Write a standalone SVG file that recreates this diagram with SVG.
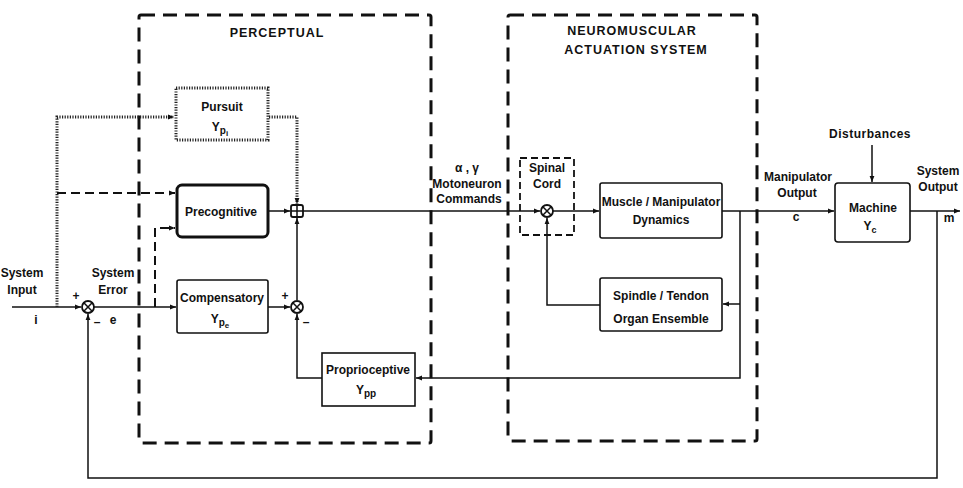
<svg xmlns="http://www.w3.org/2000/svg" width="963" height="488" viewBox="0 0 963 488">
<defs>
<style>
text{font-family:"Liberation Sans",Arial,sans-serif;font-weight:bold;font-size:12px;fill:#111;text-anchor:middle}
.big{font-size:12.5px;letter-spacing:1px}
.box{fill:#fff;stroke:#111;stroke-width:1.6}
.thick{fill:#fff;stroke:#111;stroke-width:3}
.region{fill:none;stroke:#111;stroke-width:3;stroke-dasharray:14,8}
.small{fill:none;stroke:#111;stroke-width:1.8;stroke-dasharray:7,4}
.hatch{fill:none;stroke:#222;stroke-width:3;stroke-dasharray:1.2,1.4}
.line{fill:none;stroke:#111;stroke-width:1.5}
.dash{fill:none;stroke:#111;stroke-width:2;stroke-dasharray:9,5}
.junc{fill:#fff;stroke:#111;stroke-width:1.8}
</style>
<marker id="a" viewBox="0 0 10 10" refX="10" refY="5" markerWidth="7" markerHeight="6" orient="auto" markerUnits="userSpaceOnUse">
<path d="M0,1 L10,5 L0,9 z" fill="#111"/>
</marker>
</defs>
<g id="perceptual-region">
<rect class="region" x="139" y="15" width="292" height="428" rx="2"/>
<text class="big" x="277" y="37">PERCEPTUAL</text>
</g>
<g id="neuromuscular-region">
<rect class="region" x="508" y="15" width="249" height="426" rx="2"/>
<text class="big" x="632" y="35">NEUROMUSCULAR</text>
<text class="big" x="636" y="54">ACTUATION SYSTEM</text>
</g>
<g id="connectors">
<path class="line" d="M12,307 H81" marker-end="url(#a)"/>
<path class="hatch" d="M57,307 V117 H174" marker-end="url(#a)"/>
<path class="dash" d="M57,193 H175" marker-end="url(#a)"/>
<path class="line" d="M94,307 H176" marker-end="url(#a)"/>
<path class="dash" d="M155,307 V228 H175" marker-end="url(#a)"/>
<path class="line" d="M268,307 H290" marker-end="url(#a)"/>
<path class="line" d="M268,211 H290" marker-end="url(#a)"/>
<path class="hatch" d="M269,117 H297 V204" marker-end="url(#a)"/>
<path class="line" d="M297,300 V218" marker-end="url(#a)"/>
<path class="line" d="M303,211 H540" marker-end="url(#a)"/>
<path class="line" d="M553,211 H599" marker-end="url(#a)"/>
<path class="line" d="M722,211 H834" marker-end="url(#a)"/>
<path class="line" d="M910,211 H960" marker-end="url(#a)"/>
<path class="line" d="M740,211 V378 H416" marker-end="url(#a)"/>
<path class="line" d="M740,304 H723" marker-end="url(#a)"/>
<path class="line" d="M600,305 H547 V218" marker-end="url(#a)"/>
<path class="line" d="M322,378 H297 V314" marker-end="url(#a)"/>
<path class="line" d="M937,211 V478 H88 V314" marker-end="url(#a)"/>
<path class="line" d="M872,145 V182" marker-end="url(#a)"/>
</g>
<g id="error-junction">
<circle class="junc" cx="88" cy="307" r="6"/>
<path class="line" d="M83.8,302.8 L92.2,311.2 M92.2,302.8 L83.8,311.2"/>
<text x="76" y="300">+</text>
<text x="97" y="326">–</text>
</g>
<g id="pursuit">
<rect class="hatch" x="176" y="88" width="92" height="52"/>
<text x="222" y="111">Pursuit</text>
<text x="220" y="131">Y<tspan font-size="10" dy="3">p</tspan><tspan font-size="8" dy="2">i</tspan></text>
</g>
<g id="precognitive">
<rect class="thick" x="177" y="185" width="91" height="52" rx="5"/>
<text x="221" y="216">Precognitive</text>
</g>
<g id="compensatory">
<rect class="box" x="177" y="280" width="91" height="53" rx="2"/>
<text x="222" y="302" font-size="11.8">Compensatory</text>
<text x="220" y="323">Y<tspan font-size="10" dy="3">p</tspan><tspan font-size="8" dy="2">e</tspan></text>
</g>
<g id="sum-junction">
<rect class="junc" x="291" y="205" width="12" height="12" rx="2"/>
<path class="line" d="M297,205 V217 M291,211 H303"/>
</g>
<g id="comp-junction">
<circle class="junc" cx="297" cy="307" r="6"/>
<path class="line" d="M292.8,302.8 L301.2,311.2 M301.2,302.8 L292.8,311.2"/>
<text x="285" y="300">+</text>
<text x="306" y="326">–</text>
</g>
<g id="proprioceptive">
<rect class="box" x="322" y="353" width="93" height="53"/>
<text x="368" y="374" font-size="11.5">Proprioceptive</text>
<text x="366" y="394">Y<tspan font-size="10" dy="3">p</tspan><tspan font-size="10">p</tspan></text>
</g>
<g id="spinal-cord">
<rect class="small" x="520" y="158" width="54" height="77"/>
<text x="547" y="172" font-size="12">Spinal</text>
<text x="547" y="188" font-size="12">Cord</text>
<circle class="junc" cx="547" cy="211" r="6"/>
<path class="line" d="M542.8,206.8 L551.2,215.2 M551.2,206.8 L542.8,215.2"/>
</g>
<g id="muscle">
<rect class="box" x="600" y="183" width="122" height="55" rx="2"/>
<text x="661" y="206" font-size="11.8">Muscle / Manipulator</text>
<text x="661" y="224">Dynamics</text>
</g>
<g id="spindle">
<rect class="box" x="600" y="278" width="122" height="53" rx="2"/>
<text x="661" y="300">Spindle / Tendon</text>
<text x="661" y="323">Organ Ensemble</text>
</g>
<g id="machine">
<rect class="box" x="835" y="183" width="75" height="59" rx="3"/>
<text x="873" y="212" font-size="12.5">Machine</text>
<text x="870" y="230">Y<tspan font-size="9" dy="3">c</tspan></text>
</g>
<g id="labels">
<text x="22" y="277">System</text>
<text x="22" y="294">Input</text>
<text x="36" y="324">i</text>
<text x="113" y="277">System</text>
<text x="113" y="294">Error</text>
<text x="113" y="324">e</text>
<text x="467" y="172">α , γ</text>
<text x="467" y="188" font-size="11">Motoneuron</text>
<text x="469" y="203" font-size="11">Commands</text>
<text x="798" y="181" font-size="11.5">Manipulator</text>
<text x="797" y="197">Output</text>
<text x="796" y="221">c</text>
<text x="870" y="138" letter-spacing="0.5">Disturbances</text>
<text x="938" y="175">System</text>
<text x="938" y="191">Output</text>
<text x="949" y="222">m</text>
</g>
</svg>
